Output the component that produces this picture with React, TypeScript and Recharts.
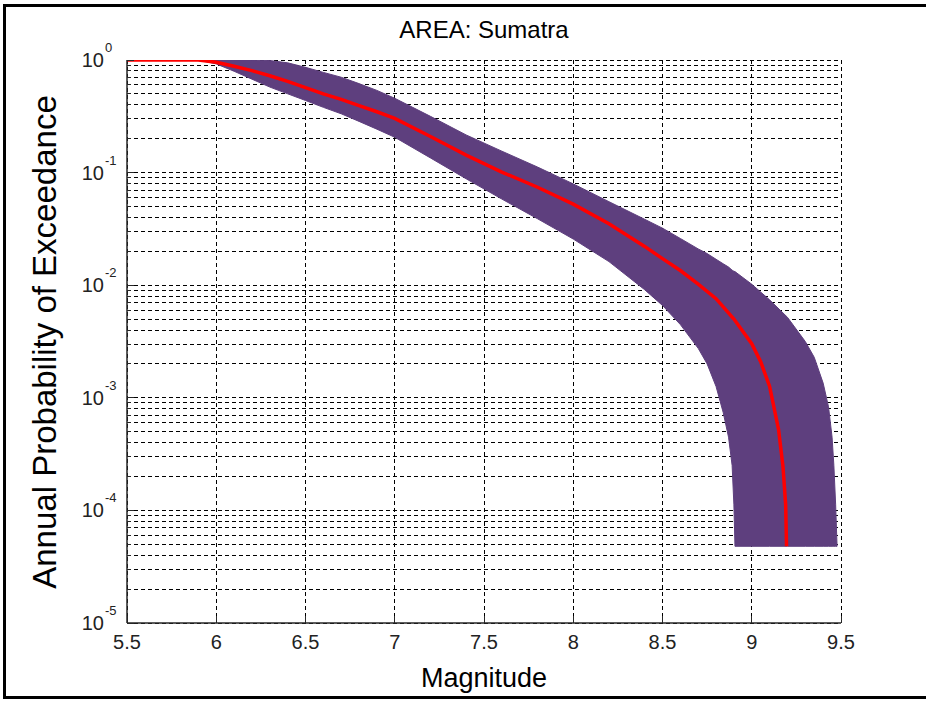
import React from 'react';
import { ComposedChart, Area, Line, XAxis, YAxis, CartesianGrid } from 'recharts';

// Band (upper / lower bounds) sampled at these magnitudes
const bandMagnitudes = [
  5.5, 5.9, 6.0, 6.1, 6.2, 6.3, 6.4, 6.5, 6.6, 6.7, 6.8, 6.9, 7.0, 7.2, 7.4, 7.6, 7.8,
  8.0, 8.2, 8.4, 8.5, 8.6, 8.7, 8.75, 8.8, 8.84, 8.87, 8.89, 8.9, 8.906,
  9.0, 9.1, 9.2, 9.3, 9.35, 9.4, 9.43, 9.45, 9.46, 9.47, 9.478,
];
const bandUpper = [
  1, 1, 1, 1, 1, 0.989, 0.944, 0.861, 0.776, 0.703, 0.617, 0.537, 0.457, 0.316, 0.216, 0.155, 0.112,
  0.0794, 0.0552, 0.0385, 0.0321, 0.026, 0.021, 0.0191, 0.017, 0.0155, 0.0145, 0.0136, 0.0133, 0.0132,
  0.0102, 0.00741, 0.00519, 0.00316, 0.00229, 0.00135, 0.000832, 0.000447, 0.000251, 0.000112, 0.000048,
];
const bandLower = [
  1, 1, 0.923, 0.794, 0.676, 0.575, 0.501, 0.437, 0.38, 0.333, 0.285, 0.243, 0.206, 0.135, 0.0881, 0.0582, 0.0389,
  0.0257, 0.0162, 0.00912, 0.00661, 0.00447, 0.00275, 0.002, 0.00126, 0.000741, 0.000447, 0.000251, 0.000112, 0.000048,
  0.000048, 0.000048, 0.000048, 0.000048, 0.000048, 0.000048, 0.000048, 0.000048, 0.000048, 0.000048, 0.000048,
];

// Median curve
const medianMagnitudes = [
  5.5, 5.9, 6.0, 6.1, 6.2, 6.3, 6.4, 6.5, 6.6, 6.7, 6.8, 6.9, 7.0, 7.2, 7.4, 7.6, 7.8,
  8.0, 8.2, 8.4, 8.5, 8.6, 8.7, 8.8, 8.9, 9.0, 9.05, 9.1, 9.15, 9.175, 9.19, 9.195,
];
const medianProb = [
  1, 1, 0.955, 0.881, 0.804, 0.724, 0.646, 0.569, 0.501, 0.447, 0.394, 0.347, 0.303, 0.209, 0.143, 0.101, 0.0741,
  0.0525, 0.0351, 0.0221, 0.0172, 0.0135, 0.0102, 0.00759, 0.00501, 0.00302, 0.00209, 0.00126, 0.000525, 0.000245, 0.000112, 0.000048,
];

const xTicks = [5.5, 6, 6.5, 7, 7.5, 8, 8.5, 9, 9.5];
const yDecades = [-5, -4, -3, -2, -1, 0];
const yMantissas = [1, 2, 3, 4, 5, 6, 7, 8, 9];

const yTicks: number[] = [];
yDecades.forEach((e) => {
  if (e === 0) {
    yTicks.push(1);
  } else {
    yMantissas.forEach((m) => yTicks.push(parseFloat((m * Math.pow(10, e)).toPrecision(6))));
  }
});

const bandData = bandMagnitudes.map((m, i) => ({ m, range: [bandLower[i], bandUpper[i]] }));
const medianData = medianMagnitudes.map((m, i) => ({ m, p: medianProb[i] }));

const FONT = '"Liberation Sans", Arial, Helvetica, sans-serif';
const AXIS = '#262626';

function decadeOf(v: number) {
  const e = Math.round(Math.log10(v));
  const isMajor = Math.abs(v / Math.pow(10, e) - 1) < 1e-6;
  return { e, isMajor };
}

const LeftTick = (props: any) => {
  const { x, y, payload } = props;
  const { e, isMajor } = decadeOf(payload.value);
  return (
    <g>
      <line x1={x} x2={x + (isMajor ? 7 : 4)} y1={y} y2={y} stroke={AXIS} strokeWidth={1} shapeRendering="crispEdges" />
      {isMajor && (
        <>
          <text x={x - 23} y={y + 7} textAnchor="end" fontFamily={FONT} fontSize={20} fill="#222">10</text>
          <text x={x - 22} y={y - 8} textAnchor="start" fontFamily={FONT} fontSize={13} fill="#222">{String(e)}</text>
        </>
      )}
    </g>
  );
};

const RightTick = (props: any) => {
  const { x, y, payload } = props;
  const { isMajor } = decadeOf(payload.value);
  return <line x1={x} x2={x - (isMajor ? 7 : 4)} y1={y} y2={y} stroke={AXIS} strokeWidth={1} shapeRendering="crispEdges" />;
};

const BottomTick = (props: any) => {
  const { x, y, payload } = props;
  return (
    <g>
      <line x1={x} x2={x} y1={y} y2={y - 7} stroke={AXIS} strokeWidth={1} shapeRendering="crispEdges" />
      <text x={x} y={y + 26} textAnchor="middle" fontFamily={FONT} fontSize={20} fill="#222">
        {String(payload.value)}
      </text>
    </g>
  );
};

const TopTick = (props: any) => {
  const { x, y } = props;
  return <line x1={x} x2={x} y1={y} y2={y + 7} stroke={AXIS} strokeWidth={1} shapeRendering="crispEdges" />;
};

export default function App() {
  return (
    <div style={{ position: 'absolute', left: 0, top: 0, width: 926, height: 702, background: '#fff', fontFamily: FONT }}>
      <style>{`.recharts-cartesian-grid line { shape-rendering: crispEdges; }`}</style>
      <div
        style={{
          position: 'absolute', left: 3, top: 4, width: 923, height: 695, boxSizing: 'border-box',
          borderLeft: '3px solid #000', borderTop: '3px solid #000', borderBottom: '3px solid #000',
        }}
      />
      <ComposedChart
        width={926}
        height={702}
        margin={{ top: 60, right: 85, bottom: 49, left: 67 }}
        style={{ position: 'absolute', left: 0, top: 0 }}
      >
        <CartesianGrid stroke="#000" strokeDasharray="4 3" strokeWidth={1} horizontal vertical
          xAxisId="bottom" yAxisId="left" />
        <XAxis xAxisId="bottom" dataKey="m" type="number" domain={[5.5, 9.5]} ticks={xTicks}
          allowDataOverflow orientation="bottom" height={30} tickSize={0} tickMargin={0}
          tickLine={false} axisLine={{ stroke: AXIS, strokeWidth: 1.5 }} tick={<BottomTick />} interval={0} />
        <XAxis xAxisId="top" dataKey="m" type="number" domain={[5.5, 9.5]} ticks={xTicks}
          allowDataOverflow orientation="top" height={0} tickSize={0} tickMargin={0}
          tickLine={false} axisLine={{ stroke: AXIS, strokeWidth: 1.5 }} tick={<TopTick />} interval={0} />
        <YAxis yAxisId="left" type="number" scale="log" domain={[1e-5, 1]} ticks={yTicks}
          allowDataOverflow orientation="left" width={60} tickSize={0} tickMargin={0}
          tickLine={false} axisLine={{ stroke: AXIS, strokeWidth: 1.5 }} tick={<LeftTick />} interval={0} />
        <YAxis yAxisId="right" type="number" scale="log" domain={[1e-5, 1]} ticks={yTicks}
          allowDataOverflow orientation="right" width={0} tickSize={0} tickMargin={0}
          tickLine={false} axisLine={{ stroke: AXIS, strokeWidth: 1.5 }} tick={<RightTick />} interval={0} />
        <Area
          data={bandData}
          xAxisId="bottom"
          yAxisId="left"
          dataKey="range"
          type="linear"
          fill="#5E3F7E"
          fillOpacity={1}
          stroke="#5E3F7E"
          strokeWidth={1}
          isAnimationActive={false}
        />
        <Line
          data={medianData}
          xAxisId="bottom"
          yAxisId="left"
          dataKey="p"
          type="linear"
          stroke="#FF0000"
          strokeWidth={3.5}
          dot={false}
          isAnimationActive={false}
        />
      </ComposedChart>
      <div style={{ position: 'absolute', left: 127, width: 714, top: 16, textAlign: 'center', fontSize: 24, color: '#000', lineHeight: '28px' }}>
        AREA: Sumatra
      </div>
      <div style={{ position: 'absolute', left: 127, width: 714, top: 662, textAlign: 'center', fontSize: 27, color: '#000', lineHeight: '32px' }}>
        Magnitude
      </div>
      <div
        style={{
          position: 'absolute', left: 45, top: 342, width: 700, marginLeft: -350, marginTop: -19,
          textAlign: 'center', fontSize: 33, lineHeight: '38px', color: '#000', transform: 'rotate(-90deg)',
          whiteSpace: 'nowrap',
        }}
      >
        Annual Probability of Exceedance
      </div>
    </div>
  );
}
